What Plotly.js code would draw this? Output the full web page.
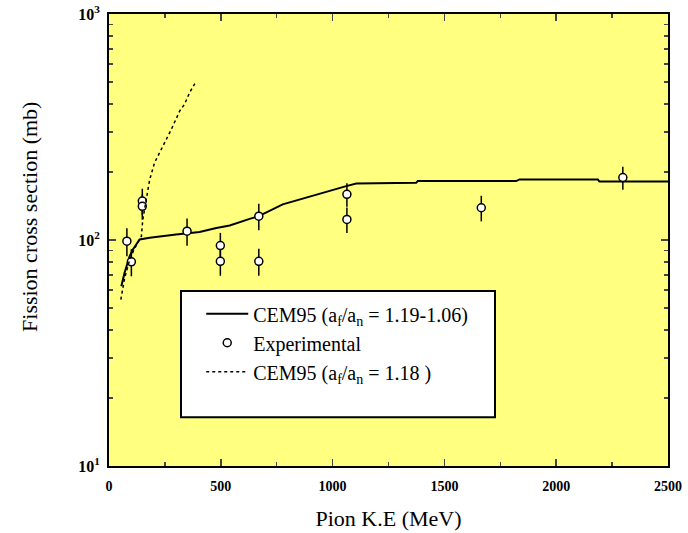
<!DOCTYPE html>
<html>
<head>
<meta charset="utf-8">
<script src="https://cdn.plot.ly/plotly-3.0.1.min.js"></script>
<style>html,body{margin:0;padding:0;background:#fff;}#chart{width:688px;height:533px;}</style>
</head>
<body>
<div id="chart"></div>
<script>
// CEM95 (af/an = 1.19-1.06), solid line
var cemX = [55, 70, 92, 107, 137, 182, 300, 405, 480, 540, 629, 670, 777, 927, 1061, 1106, 1374, 1381, 1821, 1836, 2186, 2193, 2500];
var cemY = [62.4, 71.8, 84.7, 90.8, 100.5, 102.3, 105.7, 108.5, 113, 116, 124, 127.5, 143.7, 159.2, 173.2, 178, 179.4, 182.3, 182.3, 185.4, 185.4, 181.7, 181.7];

// CEM95 (af/an = 1.18), dotted line
var cem118X = [53, 70, 90, 110, 130, 145, 151, 165, 182, 204, 227, 257, 279, 316, 338, 361, 391];
var cem118Y = [54.5, 68, 80, 90, 98, 104, 123, 150, 185, 220, 244, 279, 309, 372, 399, 450, 506];

// Experimental points
var expX = [80, 100, 149, 149, 349, 498, 498, 670, 670, 1064, 1064, 1665, 2298];
var expY = [98.8, 80.1, 148.6, 141, 109.4, 94.5, 80.5, 127.5, 80.5, 159.2, 123.3, 138.9, 188.8];
var expErr = [14, 11, 20, 18, 15, 13, 11, 17, 11, 19, 16, 18, 22];

var xTickVals = [0, 500, 1000, 1500, 2000, 2500];
var yTickVals = [10, 100, 1000];
var yTickText = ['10<sup>1</sup>', '10<sup>2</sup>', '10<sup>3</sup>'];
var yMinorVals = [20,30,40,50,60,70,80,90,200,300,400,500,600,700,800,900];

var names = ['CEM95 (a<sub>f</sub>/a<sub>n</sub> = 1.19-1.06)', 'Experimental', 'CEM95 (a<sub>f</sub>/a<sub>n</sub> = 1.18 )'];
var yTitle = 'Fission cross section (mb)';
var xTitle = 'Pion K.E (MeV)';

var serif = 'Liberation Serif, Times New Roman, serif';

var traces = [
  {x: cemX, y: cemY, mode: 'lines', name: names[0], line: {color: '#000', width: 2}},
  {x: expX, y: expY, mode: 'markers', name: names[1],
   marker: {symbol: 'circle', size: 8, color: '#fff', line: {color: '#000', width: 1.5}},
   error_y: {type: 'data', array: expErr, visible: true, color: '#000', thickness: 1.5, width: 0}},
  {x: cem118X, y: cem118Y, mode: 'lines', name: names[2], line: {color: '#000', width: 1.5, dash: 'dot'}}
];

var layout = {
  width: 688, height: 533,
  margin: {l: 109, r: 20, t: 14, b: 67},
  paper_bgcolor: '#fff',
  plot_bgcolor: '#FFFF80',
  font: {family: serif, color: '#000'},
  showlegend: true,
  legend: {x: 0.165, y: 0.38, xanchor: 'left', yanchor: 'top', bgcolor: 'rgba(0,0,0,0)',
           borderwidth: 0, font: {family: serif, size: 20, color: '#000'}, itemwidth: 42, tracegroupgap: 0},
  xaxis: {
    range: [0, 2500], tickvals: xTickVals, ticks: 'inside', ticklen: 7, tickwidth: 1.5,
    showline: true, linecolor: '#000', linewidth: 2, mirror: 'allticks', showgrid: false, zeroline: false,
    tickfont: {family: serif, size: 14, weight: 'bold'}, ticklabelstandoff: 6,
    minor: {dtick: 250, ticks: 'inside', ticklen: 4, tickwidth: 1.5, showgrid: false},
    title: {text: xTitle, font: {family: serif, size: 22}, standoff: 18}
  },
  yaxis: {
    type: 'log', range: [1, 3], tickvals: yTickVals, ticktext: yTickText, ticks: 'inside', ticklen: 7, tickwidth: 1.5,
    showline: true, linecolor: '#000', linewidth: 2, mirror: 'allticks', showgrid: false, zeroline: false,
    tickfont: {family: serif, size: 16, weight: 'bold'}, ticklabelstandoff: 4,
    minor: {tickvals: yMinorVals, ticks: 'inside', ticklen: 4, tickwidth: 1.5, showgrid: false}
  },
  annotations: [
    {text: yTitle, xref: 'paper', yref: 'paper', x: -0.1413, y: 0.551, xanchor: 'center', yanchor: 'middle',
     textangle: -90, showarrow: false, font: {family: serif, size: 22, color: '#000'}}
  ],
  shapes: [
    {type: 'rect', xref: 'paper', yref: 'paper', x0: 0.1288, x1: 0.6905, y0: 0.108, y1: 0.387,
     fillcolor: '#fff', line: {color: '#000', width: 2}, layer: 'above'}
  ]
};

Plotly.newPlot('chart', traces, layout, {displayModeBar: false, staticPlot: true});
</script>
</body>
</html>
